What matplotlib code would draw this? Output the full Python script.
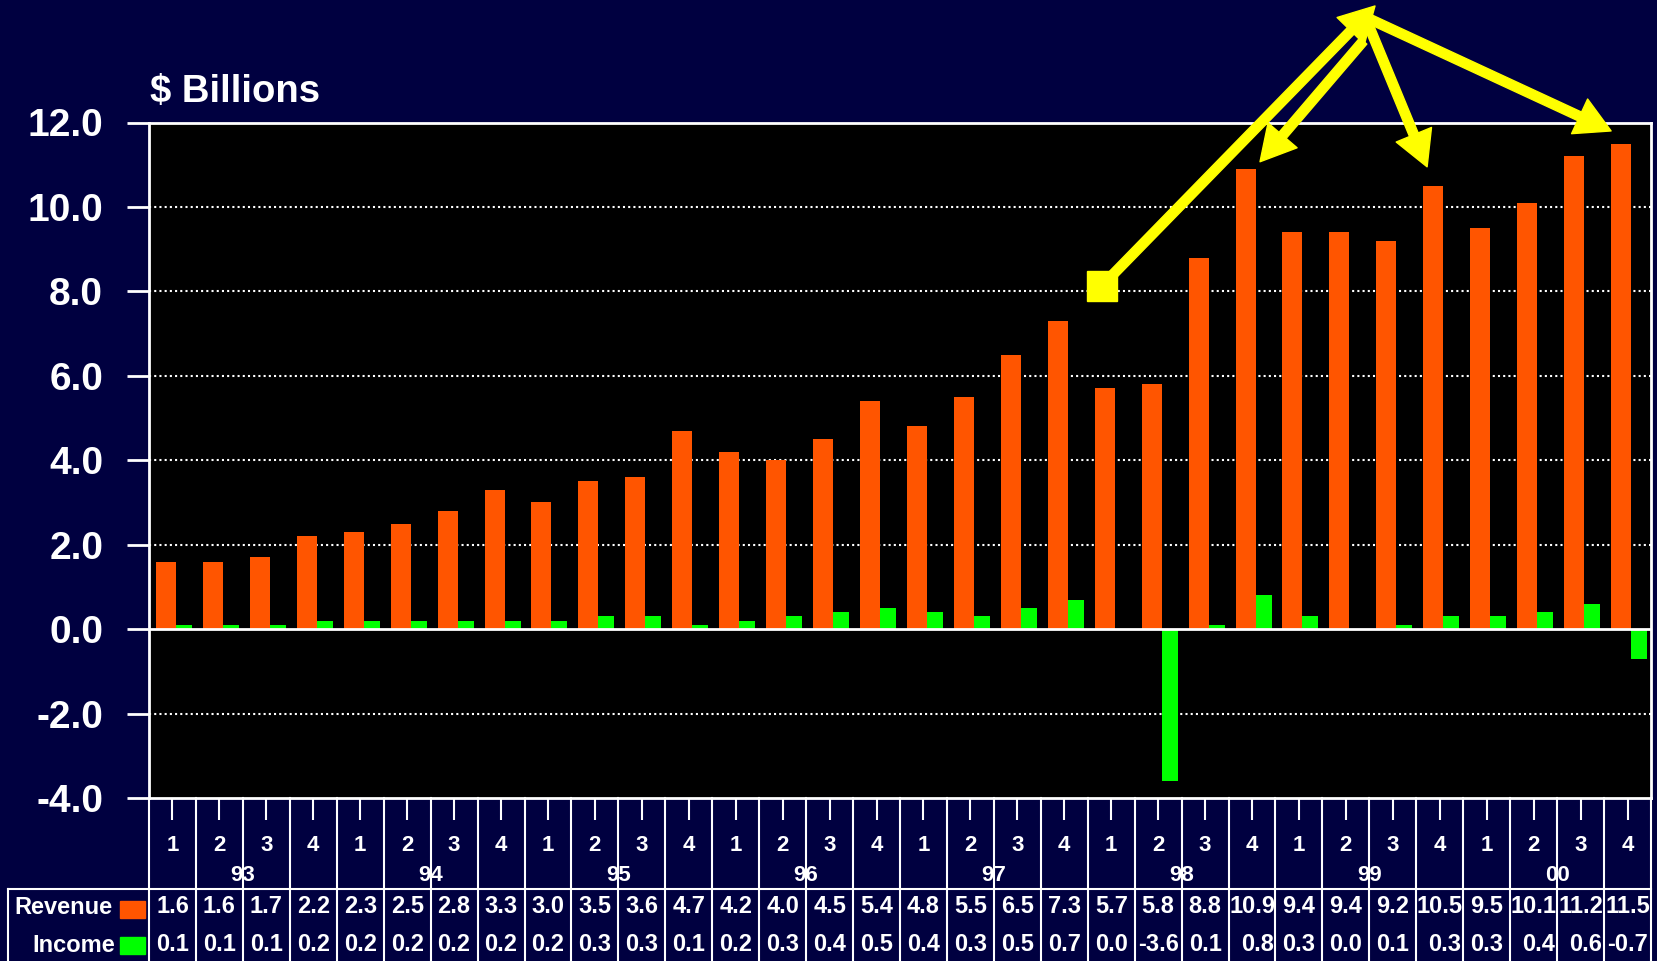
import numpy as np
import matplotlib
matplotlib.use("Agg")
import matplotlib.pyplot as plt
import matplotlib.transforms as mtransforms
from matplotlib.patches import Rectangle
from matplotlib.lines import Line2D

plt.rcParams["font.family"] = ["Liberation Sans", "DejaVu Sans"]
plt.rcParams["font.weight"] = "bold"

# data
quarters = ["1", "2", "3", "4"] * 8
years = ["93", "94", "95", "96", "97", "98", "99", "00"]
revenue = [1.6, 1.6, 1.7, 2.2, 2.3, 2.5, 2.8, 3.3, 3.0, 3.5, 3.6, 4.7,
           4.2, 4.0, 4.5, 5.4, 4.8, 5.5, 6.5, 7.3, 5.7, 5.8, 8.8, 10.9,
           9.4, 9.4, 9.2, 10.5, 9.5, 10.1, 11.2, 11.5]
income = [0.1, 0.1, 0.1, 0.2, 0.2, 0.2, 0.2, 0.2, 0.2, 0.3, 0.3, 0.1,
          0.2, 0.3, 0.4, 0.5, 0.4, 0.3, 0.5, 0.7, 0.0, -3.6, 0.1, 0.8,
          0.3, 0.0, 0.1, 0.3, 0.3, 0.4, 0.6, -0.7]
yticks = [-4, -2, 0, 2, 4, 6, 8, 10, 12]

NAVY = "#000040"
ORANGE = "#ff5500"
GREEN = "#00ff00"
YELLOW = "#ffff00"

W, H = 1658, 961
fig = plt.figure(figsize=(W / 100, H / 100), dpi=100, facecolor=NAVY)
ax = fig.add_axes([149 / W, 1 - 798 / H, (1651 - 149) / W, (798 - 122.5) / H])
ax.set_facecolor("black")

x = np.arange(len(revenue))
ax.bar(x - 0.139, revenue, width=0.426, color=ORANGE, zorder=2)
ax.bar(x + 0.245, income, width=0.34, color=GREEN, zorder=2)
ax.set_xlim(-0.5, len(revenue) - 0.5)
ax.set_ylim(min(yticks), max(yticks))

ax.set_yticks(yticks)
ax.set_yticklabels([f"{v:.1f}" for v in yticks], fontsize=28,
                   fontweight="bold", color="white")
ax.tick_params(axis="y", length=16, width=2, color="white", pad=17)
ax.set_xticks(x)
ax.tick_params(axis="x", length=16, width=1.5, color="white",
               labelbottom=False)
for v in yticks[1:-1]:
    if v != 0:
        ax.axhline(v, color="white", lw=1.5, ls=(0, (1, 1.5)), zorder=1)
ax.axhline(0, color="white", lw=2, zorder=3)
for s in ax.spines.values():
    s.set_color("white")
    s.set_linewidth(2)

# category area and data table under the axis
trans = mtransforms.blended_transform_factory(ax.transData, ax.transAxes)
right_cells = {23, 27, 29, 30}  # income cells pushed right in the original
for k in range(len(revenue) + 1):
    ax.plot([k - 0.5, k - 0.5], [0, -0.245], color="white", lw=1.5,
            transform=trans, clip_on=False)
for i, q in enumerate(quarters):
    ax.text(i, -0.071, q, transform=trans, ha="center", va="center",
            fontsize=16, fontweight="bold", color="white")
    ax.text(i, -0.161, f"{revenue[i]:.1f}", transform=trans, ha="center",
            va="center", fontsize=17, fontweight="bold", color="white")
    if i in right_cells:
        ax.text(i + 0.46, -0.2176, f"{income[i]:.1f}", transform=trans,
                ha="right", va="center", fontsize=17, fontweight="bold",
                color="white")
    else:
        ax.text(i, -0.2176, f"{income[i]:.1f}", transform=trans,
                ha="center", va="center", fontsize=17, fontweight="bold",
                color="white")
for j, yr in enumerate(years):
    ax.text(4 * j + 1.5, -0.114, yr, transform=trans, ha="center",
            va="center", fontsize=16, fontweight="bold", color="white")

fig.add_artist(Line2D([8 / W, 1651 / W], [1 - 889 / H] * 2, color="white",
                      lw=1.5))
fig.add_artist(Line2D([8 / W, 8 / W], [1 - 889 / H, 0], color="white", lw=1.5))
fig.text(113 / W, 1 - 908 / H, "Revenue", ha="right", va="center",
         fontsize=17, fontweight="bold", color="white")
fig.text(115 / W, 1 - 946 / H, "Income", ha="right", va="center",
         fontsize=17, fontweight="bold", color="white")
fig.add_artist(Rectangle((120 / W, 1 - 918 / H), 25 / W, 17 / H,
                         color=ORANGE, transform=fig.transFigure))
fig.add_artist(Rectangle((120 / W, 1 - 954 / H), 25 / W, 17 / H,
                         color=GREEN, transform=fig.transFigure))

fig.text(150 / W, 1 - 102 / H, "\\$ Billions", ha="left", va="baseline",
         fontsize=27.5, fontweight="bold", color="white")

# yellow call-out arrows
square = (19.8, 8.13)
apex = (25.41, 14.5)
ax.plot(*square, marker="s", ms=21.5, color=YELLOW, clip_on=False, zorder=5)
head = dict(arrowstyle="simple,head_length=1.0,head_width=1.1,tail_width=0.27",
            mutation_scale=25, color=YELLOW, shrinkA=0, shrinkB=0)
ax.annotate("", xy=(25.62, 14.76), xytext=square, arrowprops=head,
            annotation_clip=False, zorder=5)
ax.annotate("", xy=(23.17, 11.07), xytext=(25.37, 13.93), arrowprops=head,
            annotation_clip=False, zorder=5)
ax.annotate("", xy=(26.73, 10.95), xytext=apex, arrowprops=head,
            annotation_clip=False, zorder=5)
ax.annotate("", xy=(30.65, 11.8), xytext=apex, arrowprops=head,
            annotation_clip=False, zorder=5)

fig.savefig("out.png", dpi=100, facecolor=NAVY)
